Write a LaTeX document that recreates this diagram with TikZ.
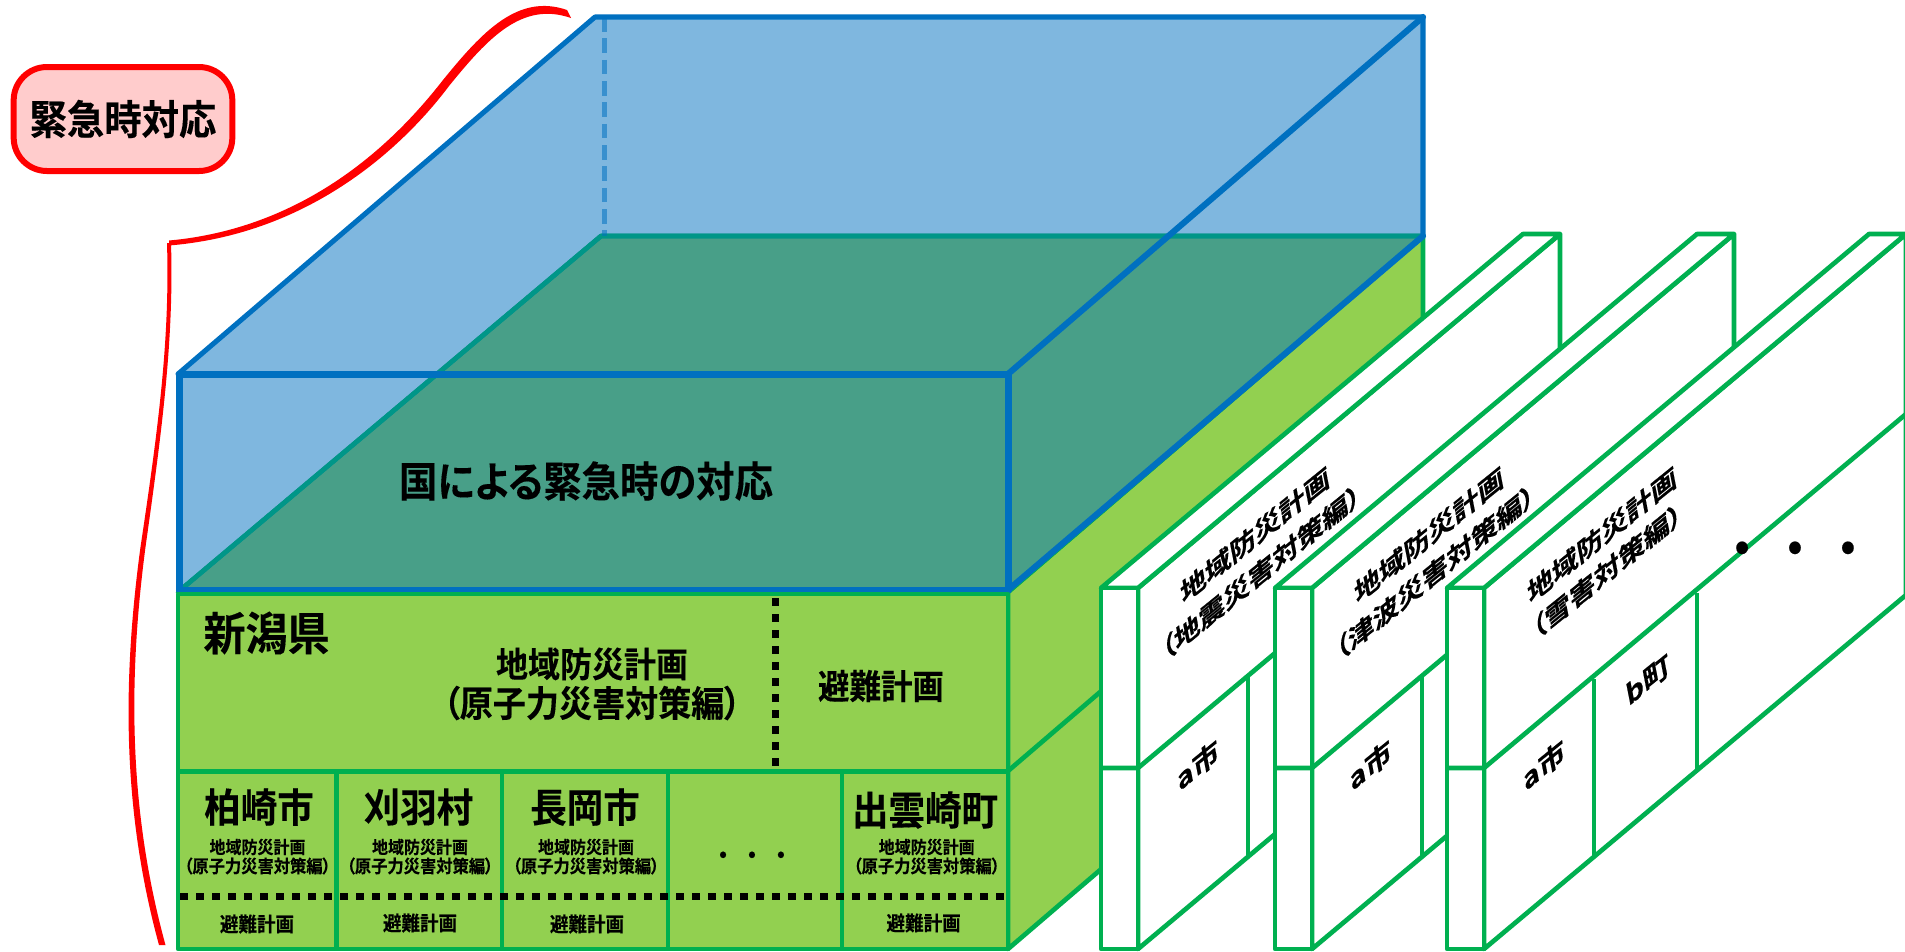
\documentclass[tikz,border=0pt]{standalone}
\usepackage{fontspec}
\setmainfont{Noto Sans CJK JP}[BoldFont={Noto Sans CJK JP Bold},RawFeature=+palt,BoldFeatures={FakeStretch=0.92,FakeBold=0.25}]
\definecolor{gline}{HTML}{00B050}
\definecolor{gfill}{HTML}{92D050}
\definecolor{bline}{HTML}{0070C0}
\definecolor{tline}{HTML}{009688}
\definecolor{rline}{HTML}{FF0000}
\definecolor{rfill}{HTML}{FFCCCC}
\newcommand{\px}[1]{\fontsize{\the\dimexpr #1*1087/1000\relax}{\the\dimexpr #1*1087/1000\relax}\selectfont\bfseries}
\newcommand{\skewtext}[5]{\begin{scope}[shift={(#1,#2)},cm={1,0.81,-0.18,0.92,(0,0)}]\node[transform shape,inner sep=0pt] (#3) {\px{#4}#5};\end{scope}}
\tikzset{
  x=0.75pt,y=-0.75pt,
  greenline/.style={draw=gline,line width=3.5pt,line join=round},
  blueline/.style={draw=bline,line width=#1,line join=round,line cap=round},
  blueline/.default=3.8pt,
  blackdash/.style={draw=black,line width=5.25pt,dash pattern=on 6pt off 6pt},
  lab/.style={inner sep=0pt,align=center,text=black},
  sheet/.style={greenline,fill=white}
}
\begin{document}
\begin{tikzpicture}
\useasboundingbox (0,0) rectangle (1905,951);
% green side and floor
\path[fill=gfill,greenline] (1008,592)--(1423,236)--(1423,593)--(1008,949)--cycle;
\draw[greenline] (1008,771)--(1423,415);
\path[fill=gfill,greenline] (178,592)--(601,236)--(1423,236)--(1008,592)--cycle;
% translucent box
\path[fill=bline,fill opacity=0.5] (178,374)--(595,17)--(1423,17)--(1423,236)--(1008,592)--(178,592)--cycle;
\path[draw=tline,line width=3.5pt,line join=round] (178,592)--(601,236)--(1423,236);
\draw[bline,opacity=0.55,line width=3.75pt,dash pattern=on 11pt off 5pt] (604,17)--(604,236);
\draw[blueline] (178,374)--(595,17)--(1423,17)--(1423,236);
\draw[blueline=4.6pt] (1008,374)--(1423,17);
\draw[blueline=4.6pt] (1008,590)--(1423,236);
\draw[blueline=5.25pt] (179,374) rectangle (1008,590);
% front green face
\path[fill=gfill,greenline] (178,594) rectangle (1008,949);
\draw[greenline] (178,771.5)--(1008,771.5);
\foreach \x in {336.5,502,668,842} \draw[greenline] (\x,771.5)--(\x,949);
\draw[blackdash] (775,598)--(775,771);
\draw[blackdash] (180,896)--(1006,896);
% sheets
\foreach \x in {1101,1275,1447}{
  \path[sheet] ({\x+37},588)--({\x+459},234)--({\x+459},595)--({\x+37},949)--cycle;
  \path[sheet] (\x,588)--({\x+422},234)--({\x+459},234)--({\x+37},588)--cycle;
  \path[sheet] (\x,588) rectangle ({\x+37},949);
  \draw[greenline] (\x,768)--({\x+37},768)--({\x+459},414);
}
\draw[greenline] (1248,676)--(1248,857);
\draw[greenline] (1422,676)--(1422,857);
\draw[greenline] (1594,679)--(1594,857);
\draw[greenline] (1697,593)--(1697,771);
% red brace (tapered)
\fill[rline] (567,10) .. controls (518,-7) and (482,32) .. (443,80) .. controls (407,126) and (319,227) .. (169,240.5) -- (169,245.5) .. controls (321,233) and (413,134) .. (449,86) .. controls (488,38) and (522,1) .. (571,18) -- cycle;
\fill[rline] (167,243) .. controls (170,340) and (158,430) .. (140.5,547) .. controls (122.5,680) and (122,810) .. (159,945) -- (165.5,945) .. controls (128.5,810) and (128,680) .. (145.5,547) .. controls (162,430) and (174,340) .. (171,243) -- cycle;
\node[lab,draw=rline,fill=rfill,line width=4.5pt,rounded corners=25pt,minimum width=164pt,minimum height=78pt] (emer) at (123,119) {\px{28pt}緊急時対応};
% texts
\node[lab] (kuni) at (586,481) {\px{28.8pt}国による緊急時の対応};
\node[lab] (pref) at (266.5,633) {\px{31.5pt}新潟県};
\node[lab] (plan1) at (592,664) {\px{24pt}地域防災計画};
\node[lab] (plan2) at (592,703) {\px{24.8pt}（原子力災害対策編）};
\node[lab] (evac) at (881,686) {\px{23.6pt}避難計画};
\node[lab] (c1) at (259,807) {\px{27.4pt}柏崎市};
\node[lab] (c2) at (418.5,807) {\px{27.4pt}刈羽村};
\node[lab] (c3) at (585,807) {\px{27.4pt}長岡市};
\node[lab] (c5) at (925,810) {\px{27.4pt}出雲崎町};
\foreach \n/\x/\y in {a/257/924,b/420/923,c/587/924,d/923.6/923}{
  \node[lab] (ev\n) at (\x,\y) {\px{13.9pt}避難計画};
}
\foreach \n/\x in {a/257.5,b/420,c/586,d/926.7}{
  \node[lab] (pa\n) at (\x,847) {\px{12pt}地域防災計画};
  \node[lab] (pb\n) at (\x,866) {\px{12.2pt}（原子力災害対策編）};
}
\node[lab] (dots) at (752,858) {\px{17.6pt}・\hspace{12.9pt}・\hspace{12.9pt}・};
\node[lab] (dotsb) at (1795,554) {\px{34pt}・\hspace{22.7pt}・\hspace{22.7pt}・};
% skewed sheet labels
\skewtext{1255}{535}{s1a}{18.5pt}{地域防災計画}
\skewtext{1261}{572}{s1b}{18.5pt}{（地震災害対策編）}
\skewtext{1429}{535}{s2a}{18.5pt}{地域防災計画}
\skewtext{1435}{572}{s2b}{18.5pt}{（津波災害対策編）}
\skewtext{1602}{535}{s3a}{18.5pt}{地域防災計画}
\skewtext{1607}{571}{s3b}{18.5pt}{（雪害対策編）}
\skewtext{1198}{765}{ta}{19.5pt}{a市}
\skewtext{1370.5}{765}{tb}{19.5pt}{a市}
\skewtext{1544}{765}{tc}{19.5pt}{a市}
\skewtext{1648}{680}{td}{19.5pt}{b町}
\end{tikzpicture}
\end{document}
